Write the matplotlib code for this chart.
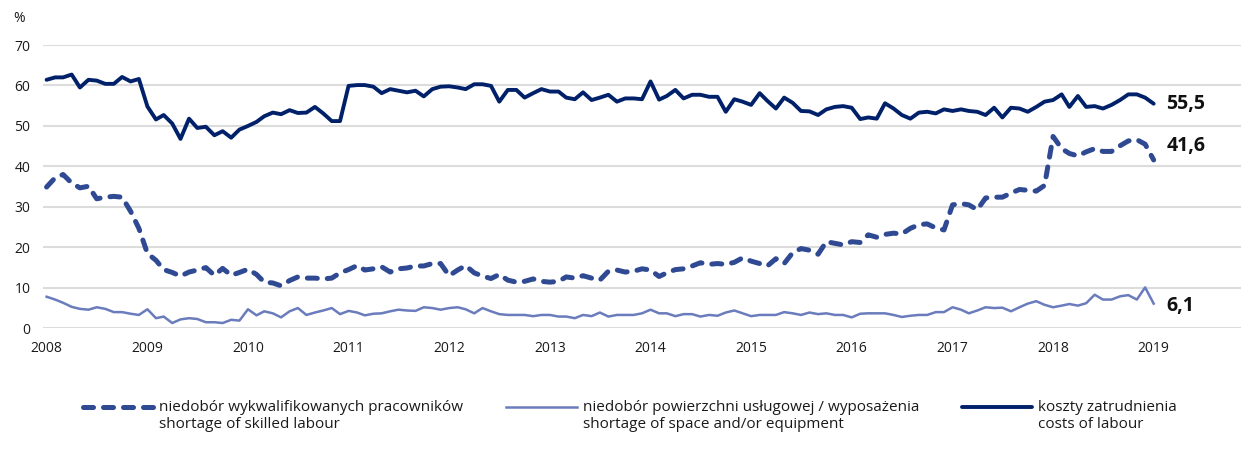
import matplotlib.pyplot as plt
import numpy as np
import pandas as pd
from matplotlib.legend_handler import HandlerLine2D

plt.rcParams['font.family'] = ['Open Sans', 'DejaVu Sans']

# miesięczne dane, styczeń 2008 - styczeń 2019
months = pd.date_range('2008-01-01', '2019-01-01', freq='MS')

skilled_labour = [
    34.9, 37.2, 38.0, 35.9, 34.7, 35.1, 32.0, 32.4, 32.6, 32.4, 28.9, 24.7,
    18.5, 16.8, 14.5, 13.8, 12.9, 13.9, 14.4, 15.0, 13.1, 14.8, 13.1, 13.8,
    14.6, 13.3, 11.4, 11.2, 10.5, 11.8, 12.7, 12.4, 12.4, 12.2, 12.4, 13.7,
    14.5, 15.5, 14.4, 14.7, 15.2, 13.9, 14.7, 14.9, 15.4, 15.4, 16.0, 16.0,
    13.0, 14.4, 15.5, 13.7, 12.9, 12.3, 13.3, 11.9, 11.4, 11.6, 12.2, 11.6,
    11.4, 11.6, 12.7, 12.4, 13.0, 12.4, 11.9, 14.1, 14.4, 13.9, 14.1, 14.7,
    14.4, 12.8, 13.7, 14.5, 14.7, 15.4, 16.2, 15.8, 16.0, 15.8, 16.3, 17.4,
    16.6, 16.0, 15.4, 17.2, 16.0, 18.7, 19.7, 19.3, 18.3, 21.4, 21.0, 20.6,
    21.4, 21.2, 23.1, 22.5, 23.2, 23.5, 23.3, 24.7, 25.6, 25.8, 24.8, 24.3,
    30.5, 30.8, 30.5, 29.3, 32.2, 32.4, 32.4, 33.4, 34.3, 34.1, 33.9, 35.3,
    47.4, 44.4, 43.2, 42.6, 43.6, 44.4, 43.7, 43.7, 45.1, 46.3, 46.6, 45.5,
    41.6,
]

space_equipment = [
    7.8, 7.1, 6.3, 5.3, 4.8, 4.6, 5.2, 4.8, 4.0, 4.0, 3.6, 3.3,
    4.7, 2.5, 2.9, 1.3, 2.2, 2.5, 2.3, 1.5, 1.5, 1.3, 2.1, 1.9,
    4.7, 3.2, 4.2, 3.7, 2.7, 4.2, 5.0, 3.3, 3.9, 4.4, 5.0, 3.5,
    4.3, 3.9, 3.2, 3.6, 3.7, 4.2, 4.6, 4.4, 4.3, 5.2, 5.0, 4.6,
    5.0, 5.2, 4.7, 3.7, 5.0, 4.2, 3.5, 3.3, 3.3, 3.3, 3.0, 3.3,
    3.3, 2.9, 2.9, 2.5, 3.3, 3.0, 3.9, 2.9, 3.3, 3.3, 3.3, 3.7,
    4.6, 3.7, 3.7, 3.0, 3.5, 3.5, 2.9, 3.3, 3.1, 3.9, 4.4, 3.7,
    3.0, 3.3, 3.3, 3.3, 4.0, 3.7, 3.3, 3.9, 3.5, 3.7, 3.3, 3.3,
    2.7, 3.6, 3.7, 3.7, 3.7, 3.3, 2.8, 3.1, 3.3, 3.3, 4.0, 4.0,
    5.2, 4.6, 3.7, 4.4, 5.2, 5.0, 5.1, 4.2, 5.2, 6.1, 6.7, 5.8,
    5.2, 5.6, 6.0, 5.6, 6.2, 8.3, 7.1, 7.1, 7.9, 8.2, 7.1, 10.1,
    6.1,
]

labour_costs = [
    61.4, 62.0, 62.0, 62.7, 59.5, 61.4, 61.2, 60.4, 60.4, 62.1, 61.0, 61.6,
    54.8, 51.6, 52.7, 50.6, 46.8, 51.8, 49.5, 49.8, 47.7, 48.7, 47.1, 49.1,
    50.0, 51.0, 52.4, 53.3, 52.9, 53.9, 53.2, 53.3, 54.7, 53.1, 51.2, 51.2,
    59.9, 60.1, 60.1, 59.7, 58.1, 59.1, 58.7, 58.3, 58.7, 57.3, 59.1, 59.7,
    59.8, 59.5, 59.1, 60.3, 60.3, 59.9, 56.0, 58.9, 58.9, 57.0, 58.1, 59.1,
    58.5, 58.5, 57.0, 56.6, 58.3, 56.4, 57.0, 57.7, 56.0, 56.8, 56.8, 56.6,
    61.0, 56.5, 57.4, 58.9, 56.8, 57.7, 57.7, 57.2, 57.2, 53.5, 56.6, 56.0,
    55.2, 58.1, 56.2, 54.3, 57.0, 55.7, 53.7, 53.6, 52.7, 54.1, 54.7, 54.9,
    54.5, 51.7, 52.1, 51.8, 55.6, 54.3, 52.7, 51.8, 53.3, 53.5, 53.1, 54.1,
    53.7, 54.1, 53.7, 53.5, 52.7, 54.5, 52.1, 54.5, 54.3, 53.5, 54.7, 56.0,
    56.4, 57.8, 54.7, 57.4, 54.7, 54.9, 54.3, 55.2, 56.4, 57.8, 57.8, 57.0,
    55.5,
]

labels = [
    'niedobór wykwalifikowanych pracowników\nshortage of skilled labour',
    'niedobór powierzchni usługowej / wyposażenia\nshortage of space and/or equipment',
    'koszty zatrudnienia\ncosts of labour',
]
years = pd.date_range('2008-01-01', '2019-01-01', freq='YS')

c_skilled = '#2f4a93'
c_space = '#6a7cbc'
c_costs = '#002169'


class FirstLineHandler(HandlerLine2D):
    # przesuwa próbkę linii na wysokość pierwszego wiersza opisu
    def create_artists(self, legend, orig_handle, xdescent, ydescent,
                       width, height, fontsize, trans):
        arts = super().create_artists(legend, orig_handle, xdescent, ydescent,
                                      width, height, fontsize, trans)
        for a in arts:
            a.set_ydata(np.asarray(a.get_ydata()) + 0.62 * fontsize)
        return arts


fig = plt.figure(figsize=(12.41, 4.5), dpi=100)
ax = fig.add_axes([43 / 1241, 1 - 328.3 / 450, 1 - 43 / 1241, (328.3 - 45) / 450])

l1, = ax.plot(months, skilled_labour, color=c_skilled, lw=3.6,
              dashes=(2.0, 2.0), dash_capstyle='round', solid_capstyle='round')
l2, = ax.plot(months, space_equipment, color=c_space, lw=1.8)
l3, = ax.plot(months, labour_costs, color=c_costs, lw=2.8,
              solid_capstyle='round', solid_joinstyle='round')

ax.set_ylim(0, 70)
ax.set_yticks(range(0, 71, 10))
ax.set_xlim(pd.Timestamp('2007-12-19'), pd.Timestamp('2019-11-14'))
ax.set_xticks(years)
ax.set_xticklabels([str(y.year) for y in years])
ax.tick_params(length=0, labelsize=10, colors='#1a1a1a')
ax.tick_params(axis='y', pad=9)
ax.tick_params(axis='x', pad=9)
ax.grid(axis='y', color='#dcdcdc', lw=1.5)
ax.set_axisbelow(True)
for s in ax.spines.values():
    s.set_visible(False)

# wartości na końcu serii
ends = [(skilled_labour, (9, 10)), (space_equipment, (9, -2)), (labour_costs, (9, 0))]
for series, off in ends:
    ax.annotate(f'{series[-1]:.1f}'.replace('.', ','), xy=(months[-1], series[-1]),
                xytext=off, textcoords='offset points', va='center', ha='left',
                fontsize=14, fontweight='bold', color='#111111')

fig.text(13 / 1241, 1 - 18 / 450, '%', fontsize=10, va='center', ha='left', color='#1a1a1a')

leg = fig.legend([l1, l2, l3], labels, loc='center', ncol=3, frameon=False,
                 bbox_to_anchor=(630 / 1241, 1 - 416 / 450), fontsize=11,
                 handlelength=4.6, handletextpad=0.4, columnspacing=2.8,
                 handler_map={l1: FirstLineHandler(), l2: FirstLineHandler(),
                              l3: FirstLineHandler()})
for t in leg.get_texts():
    t.set_color('#1a1a1a')
    t.set_linespacing(1.15)

fig.savefig('out.png', dpi=100)
